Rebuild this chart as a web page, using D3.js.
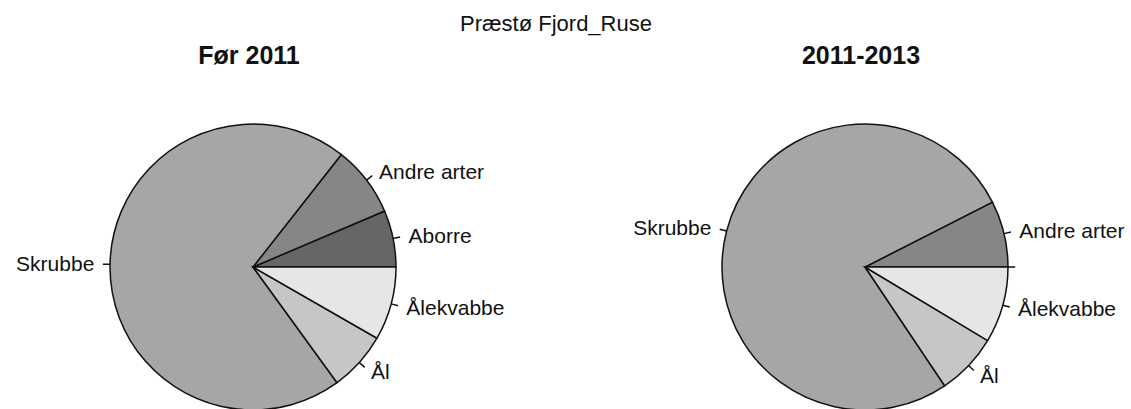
<!DOCTYPE html>
<html lang="en">
<head>
    <meta charset="UTF-8">
    <title>Præstø Fjord_Ruse</title>
    <style>
        body {
            margin: 0;
            padding: 0;
            background-color: #ffffff;
        }
        svg text {
            font-family: "Liberation Sans", Arial, sans-serif;
            fill: #111111;
        }
        .slice {
            stroke: #111111;
            stroke-width: 1.5px;
        }
        .tick {
            stroke: #111111;
            stroke-width: 1.5px;
        }
    </style>
</head>
<body>
    <div id="chart"></div>

    <script src="https://d3js.org/d3.v7.min.js"></script>
    <script>
        const width = 1131;
        const height = 409;

        // Data (percent of catch)
        const mainTitle = "Præstø Fjord_Ruse";
        const periods = ["Før 2011", "2011-2013"];
        const species = ["Aborre", "Andre arter", "Skrubbe", "Ål", "Ålekvabbe"];
        const before2011 = [6.4, 8.0, 70.6, 6.7, 8.3];
        const from2011to2013 = [0, 7.5, 76.9, 7.0, 8.6];
        const sliceColors = ["#666666", "#868686", "#a6a6a6", "#c6c6c6", "#e6e6e6"];

        const svg = d3.select("#chart").append("svg")
            .attr("width", width)
            .attr("height", height);

        svg.append("text")
            .attr("x", 556)
            .attr("y", 31)
            .attr("text-anchor", "middle")
            .style("font-size", "22px")
            .text(mainTitle);

        const radius = 143;
        const panels = [
            {title: periods[0], values: before2011, cx: 253, cy: 267, tx: 249},
            {title: periods[1], values: from2011to2013, cx: 865, cy: 267, tx: 861}
        ];

        // R style pie: start at 3 o'clock, go counter-clockwise
        const pie = d3.pie()
            .sort(null)
            .value(d => d.value)
            .startAngle(Math.PI / 2)
            .endAngle(Math.PI / 2 - 2 * Math.PI);

        const arc = d3.arc().innerRadius(0).outerRadius(radius);

        panels.forEach(p => {
            svg.append("text")
                .attr("x", p.tx)
                .attr("y", 64)
                .attr("text-anchor", "middle")
                .style("font-size", "25px")
                .style("font-weight", "bold")
                .text(p.title);

            const g = svg.append("g")
                .attr("transform", `translate(${p.cx},${p.cy})`);

            const arcs = pie(species.map((s, i) => ({name: s, value: p.values[i], color: sliceColors[i]})));

            g.selectAll("path")
                .data(arcs)
                .enter().append("path")
                .attr("class", "slice")
                .attr("fill", d => d.data.color)
                .attr("d", arc);

            // label tick lines
            g.selectAll("line")
                .data(arcs)
                .enter().append("line")
                .attr("class", "tick")
                .attr("x1", d => Math.sin(mid(d)) * radius)
                .attr("y1", d => -Math.cos(mid(d)) * radius)
                .attr("x2", d => Math.sin(mid(d)) * radius * 1.05)
                .attr("y2", d => -Math.cos(mid(d)) * radius * 1.05);

            g.selectAll("text")
                .data(arcs.filter(d => d.value > 0))
                .enter().append("text")
                .attr("x", d => Math.sin(mid(d)) * radius * 1.11)
                .attr("y", d => -Math.cos(mid(d)) * radius * 1.1)
                .attr("dy", "0.35em")
                .attr("text-anchor", d => Math.sin(mid(d)) >= 0 ? "start" : "end")
                .style("font-size", "21px")
                .text(d => d.data.name);
        });

        function mid(d) {
            return (d.startAngle + d.endAngle) / 2;
        }
    </script>
</body>
</html>
